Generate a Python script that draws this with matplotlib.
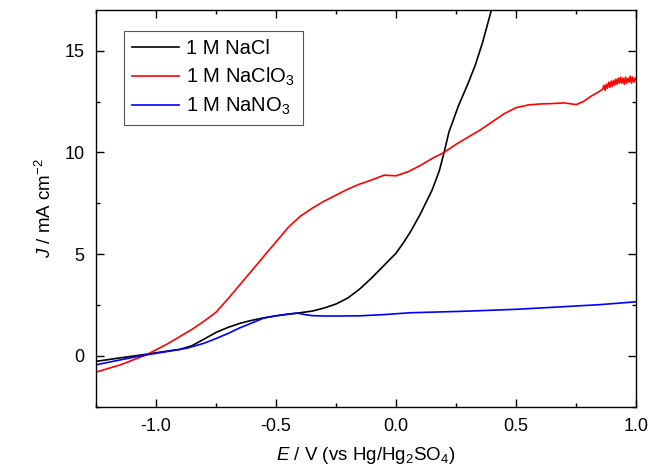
import matplotlib
matplotlib.use('Agg')
import matplotlib.pyplot as plt
from matplotlib.ticker import MultipleLocator

plt.rcParams['font.family'] = ['Liberation Sans', 'DejaVu Sans']
plt.rcParams['mathtext.fontset'] = 'custom'
plt.rcParams['mathtext.rm'] = 'Liberation Sans'
plt.rcParams['mathtext.it'] = 'Liberation Sans:italic'

# values
nacl_E = [-1.25, -1.15, -1.04, -0.95, -0.9, -0.85, -0.8, -0.75, -0.7, -0.65,
          -0.6, -0.55, -0.5, -0.45, -0.4, -0.35, -0.3, -0.25, -0.2, -0.15,
          -0.1, -0.05, 0.0, 0.03, 0.06, 0.1, 0.15, 0.18, 0.2, 0.22,
          0.26, 0.3, 0.33, 0.36, 0.39, 0.42]
nacl_J = [-0.27, -0.1, 0.08, 0.24, 0.32, 0.5, 0.82, 1.15, 1.4, 1.6,
          1.75, 1.87, 1.97, 2.05, 2.12, 2.2, 2.35, 2.55, 2.85, 3.3,
          3.85, 4.45, 5.05, 5.55, 6.1, 6.95, 8.15, 9.1, 10.0, 11.0,
          12.3, 13.4, 14.3, 15.4, 16.7, 18.0]

naclo3_E = [-1.25, -1.15, -1.04, -0.95, -0.9, -0.85, -0.8, -0.75, -0.7, -0.65,
            -0.6, -0.55, -0.5, -0.45, -0.4, -0.35, -0.3, -0.25, -0.2, -0.15,
            -0.1, -0.05, 0.0, 0.05, 0.1, 0.15, 0.2, 0.25, 0.3, 0.35,
            0.4, 0.45, 0.5, 0.55, 0.6, 0.65, 0.7, 0.75, 0.78, 0.81,
            0.84, 0.86, 0.865, 0.87, 0.875, 0.88, 0.885, 0.89, 0.895, 0.9,
            0.905, 0.91, 0.915, 0.92, 0.925, 0.93, 0.935, 0.94, 0.945, 0.95,
            0.955, 0.96, 0.965, 0.97, 0.975, 0.98, 0.985, 0.99, 0.995, 1.0]
naclo3_J = [-0.8, -0.45, 0.05, 0.6, 0.95, 1.3, 1.7, 2.14, 2.8, 3.5,
            4.2, 4.9, 5.6, 6.3, 6.85, 7.25, 7.6, 7.9, 8.2, 8.45,
            8.65, 8.88, 8.85, 9.05, 9.35, 9.7, 10.0, 10.4, 10.75, 11.1,
            11.5, 11.9, 12.2, 12.33, 12.38, 12.4, 12.43, 12.35, 12.5, 12.75,
            12.95, 13.1, 13.3, 13.05, 13.35, 13.15, 13.45, 13.2, 13.5, 13.25,
            13.55, 13.3, 13.6, 13.35, 13.65, 13.4, 13.7, 13.4, 13.65, 13.35,
            13.7, 13.4, 13.65, 13.45, 13.75, 13.4, 13.7, 13.45, 13.65, 13.5]

nano3_E = [-1.25, -1.15, -1.04, -0.95, -0.87, -0.8, -0.75, -0.7, -0.65, -0.6,
           -0.55, -0.5, -0.45, -0.41, -0.38, -0.35, -0.3, -0.25, -0.15, -0.05,
           0.06, 0.3, 0.5, 0.7, 0.85, 1.0]
nano3_J = [-0.44, -0.2, 0.05, 0.22, 0.38, 0.62, 0.85, 1.1, 1.38, 1.62,
           1.86, 1.97, 2.05, 2.1, 2.03, 1.98, 1.96, 1.96, 1.97, 2.03,
           2.12, 2.2, 2.29, 2.42, 2.52, 2.66]

fig = plt.figure(figsize=(6.56, 4.73), dpi=100)
ax = fig.add_axes([0.146, 0.14, 0.824, 0.839])

ax.plot(nacl_E, nacl_J, color='black', lw=1.2, label='1 M NaCl')
ax.plot(naclo3_E, naclo3_J, color='#ff0000', lw=1.2, label='1 M NaClO$_3$')
ax.plot(nano3_E, nano3_J, color='#0000ff', lw=1.2, label='1 M NaNO$_3$')

ax.set_xlim(-1.25, 1.0)
ax.set_ylim(-2.5, 17)
ax.xaxis.set_major_locator(MultipleLocator(0.5))
ax.xaxis.set_minor_locator(MultipleLocator(0.25))
ax.yaxis.set_major_locator(MultipleLocator(5))
ax.yaxis.set_minor_locator(MultipleLocator(2.5))
ax.xaxis.set_major_formatter(plt.FuncFormatter(lambda v, p: f'{v:.1f}'))
ax.tick_params(which='both', direction='in', top=True, right=True, labelsize=13, width=1.0)
ax.tick_params(which='major', length=6, pad=8)
ax.tick_params(which='minor', length=3)
for s in ax.spines.values():
    s.set_linewidth(1.0)

ax.set_xlabel('$E$ / V (vs Hg/Hg$_2$SO$_4$)', fontsize=13.5, labelpad=7)
ax.set_ylabel('$J$ / mA cm$^{-2}$', fontsize=13.5, labelpad=7)

leg = ax.legend(loc='upper left', bbox_to_anchor=(0.052, 0.947), borderaxespad=0,
                fontsize=14.5, fancybox=False, framealpha=1, edgecolor='#555555',
                handlelength=2.35, labelspacing=0.38, handletextpad=0.35, borderpad=0.4)
leg.get_frame().set_linewidth(0.8)

fig.savefig('out.png', dpi=100)
